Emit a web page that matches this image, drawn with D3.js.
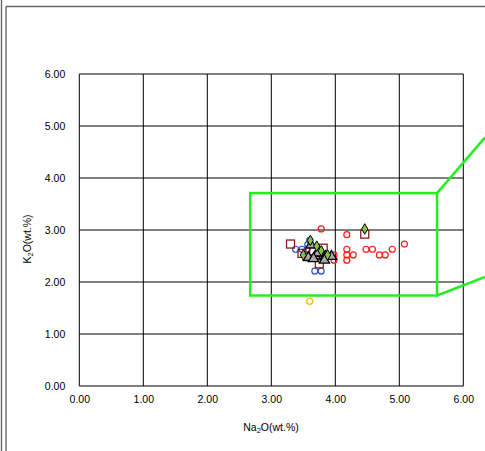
<!DOCTYPE html>
<html><head><meta charset="utf-8">
<script src="https://cdn.jsdelivr.net/npm/d3@7"></script>
<style>body{margin:0;background:#fff}svg{display:block}</style>
</head><body>
<script>
// Data (Na2O, K2O) in wt.%
const xTicks = [0,1,2,3,4,5,6];
const yTicks = [0,1,2,3,4,5,6];
const redCircles = [[3.78,3.02],[4.18,2.91],[4.18,2.63],[4.18,2.52],[4.28,2.52],[4.18,2.42],[4.48,2.63],[4.58,2.63],[4.69,2.52],[4.78,2.52],[4.89,2.63],[5.08,2.73],[3.98,2.52],[3.98,2.42]];
const blueCircles = [[3.38,2.63],[3.48,2.63],[3.56,2.63],[3.57,2.72],[3.60,2.80],[3.68,2.21],[3.78,2.21]];
const orangeCircles = [[3.60,1.63]];
const squares = [[3.30,2.73],[3.48,2.55],[3.81,2.65],[3.75,2.35],[4.46,2.92],[3.66,2.60]];
const triangles = [[3.62,2.71],[3.58,2.47],[3.69,2.50],[3.79,2.55],[3.85,2.49],[3.94,2.49],[3.83,2.42],[3.73,2.56],[3.66,2.45]];
const diamonds = [[3.61,2.80],[3.71,2.69],[3.78,2.60],[3.50,2.52],[4.46,3.02],[3.88,2.52]];
const zoomBox = [2.67, 1.74, 5.59, 3.71]; // x0,y0,x1,y1
const zoomLeaders = [[[5.59,3.71],[6.34,4.78]],[[5.59,1.74],[6.34,2.10]]];

const W=485,H=451;
const svg=d3.select("body").append("svg").attr("width",W).attr("height",H);
const x=d3.scaleLinear().domain([0,6]).range([79.3,463.3]);
const y=d3.scaleLinear().domain([0,6]).range([386,74]);
const font="'Liberation Sans', Arial, sans-serif";

// outer frame
svg.append("line").attr("x1",1.5).attr("x2",1.5).attr("y1",0).attr("y2",H).attr("stroke","#666").attr("stroke-width",1.4);
svg.append("line").attr("x1",6).attr("x2",6).attr("y1",6.5).attr("y2",H).attr("stroke","#666").attr("stroke-width",1.4);
svg.append("line").attr("x1",6).attr("x2",W).attr("y1",6.5).attr("y2",6.5).attr("stroke","#666").attr("stroke-width",1.4);

// grid
const g=svg.append("g");
g.selectAll(".vg").data(xTicks).join("line").attr("x1",d=>x(d)).attr("x2",d=>x(d)).attr("y1",y(0)).attr("y2",y(6)).attr("stroke","#000").attr("stroke-width",1);
g.selectAll(".hg").data(yTicks).join("line").attr("y1",d=>y(d)).attr("y2",d=>y(d)).attr("x1",x(0)).attr("x2",x(6)).attr("stroke","#000").attr("stroke-width",1);

// axes labels
const fmt=d3.format(".2f");
const xAxis=d3.axisBottom(x).tickValues(xTicks).tickFormat(fmt).tickSize(0).tickPadding(10);
const xa=svg.append("g").attr("transform",`translate(0,${y(0)})`).call(xAxis);
xa.select(".domain").remove();
xa.selectAll("text").attr("font-family",font).attr("font-size",10.5).attr("fill","#000");
const yAxis=d3.axisLeft(y).tickValues(yTicks).tickFormat(fmt).tickSize(0).tickPadding(14);
const ya=svg.append("g").attr("transform",`translate(${x(0)},0)`).call(yAxis);
ya.select(".domain").remove();
ya.selectAll("text").attr("font-family",font).attr("font-size",10.5).attr("fill","#000");

const xt=svg.append("text").attr("x",271).attr("y",431).attr("text-anchor","middle").attr("font-family",font).attr("font-size",10.5);
xt.append("tspan").text("Na");
xt.append("tspan").text("2").attr("font-size",7.5).attr("dy",2);
xt.append("tspan").text("O(wt.%)").attr("dy",-2);
const yt=svg.append("text").attr("transform","translate(31,239) rotate(-90)").attr("text-anchor","middle").attr("font-family",font).attr("font-size",10.5);
yt.append("tspan").text("K");
yt.append("tspan").text("2").attr("font-size",7.5).attr("dy",2);
yt.append("tspan").text("O(wt.%)").attr("dy",-2);

// points
const pts=svg.append("g");
function circles(data,color){
  pts.append("g").selectAll("circle").data(data).join("circle")
    .attr("cx",d=>x(d[0])).attr("cy",d=>y(d[1])).attr("r",3)
    .attr("fill","none").attr("stroke",color).attr("stroke-width",1.2);
}
circles(redCircles,"#ff1a1a");
circles(blueCircles,"#2a4fd8");
circles(orangeCircles,"#f5b400");
pts.append("g").selectAll("rect").data(squares).join("rect")
  .attr("x",d=>x(d[0])-4).attr("y",d=>y(d[1])-4).attr("width",8).attr("height",8)
  .attr("fill","none").attr("stroke","#8b1c1c").attr("stroke-width",1.3);
const tri=d3.symbol().type(d3.symbolTriangle).size(45);
pts.append("g").selectAll("path").data(triangles).join("path")
  .attr("d",tri).attr("transform",d=>`translate(${x(d[0])},${y(d[1])})`)
  .attr("fill","#a8a8a8").attr("stroke","#000").attr("stroke-width",1.3);
const dia=d3.symbol().type(d3.symbolDiamond).size(32);
pts.append("g").selectAll("path").data(diamonds).join("path")
  .attr("d",dia).attr("transform",d=>`translate(${x(d[0])},${y(d[1])})`)
  .attr("fill","#86c046").attr("stroke","#000").attr("stroke-width",1);

// zoom box annotation
svg.append("rect").attr("x",x(zoomBox[0])).attr("y",y(zoomBox[3]))
  .attr("width",x(zoomBox[2])-x(zoomBox[0])).attr("height",y(zoomBox[1])-y(zoomBox[3]))
  .attr("fill","none").attr("stroke","#22ee22").attr("stroke-width",2.5);
svg.selectAll(".lead").data(zoomLeaders).join("line")
  .attr("x1",d=>x(d[0][0])).attr("y1",d=>y(d[0][1])).attr("x2",d=>x(d[1][0])).attr("y2",d=>y(d[1][1]))
  .attr("stroke","#22ee22").attr("stroke-width",2.5);
</script>
</body></html>
